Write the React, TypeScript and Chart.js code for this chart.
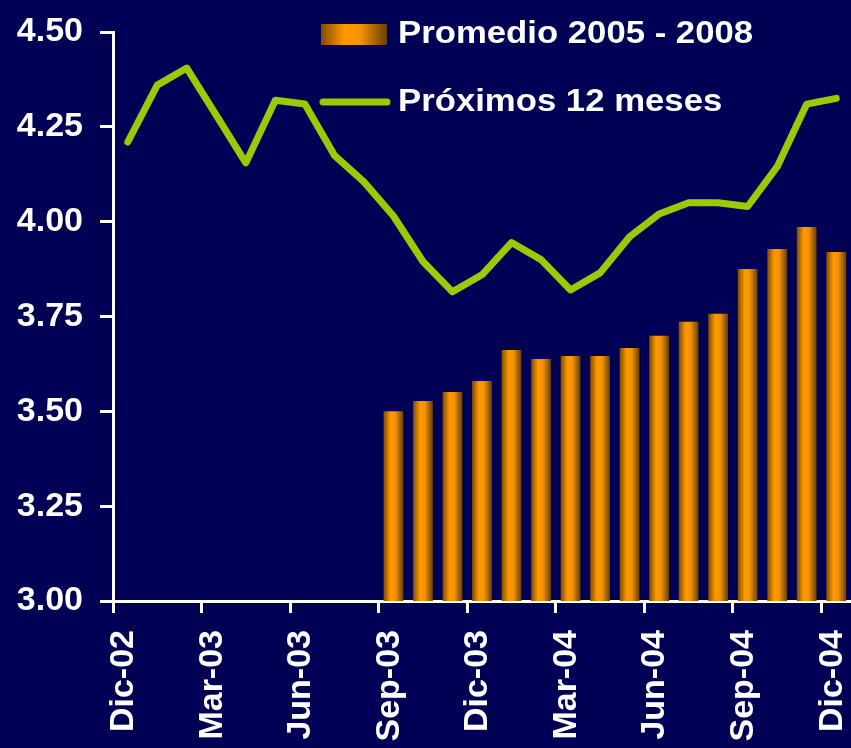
import React, { useEffect, useRef } from "react";
import { Chart, registerables } from "chart.js";

Chart.register(...registerables);

const months = [
  "Dic-02", "Ene-03", "Feb-03", "Mar-03", "Abr-03", "May-03", "Jun-03", "Jul-03", "Ago-03",
  "Sep-03", "Oct-03", "Nov-03", "Dic-03", "Ene-04", "Feb-04", "Mar-04", "Abr-04", "May-04",
  "Jun-04", "Jul-04", "Ago-04", "Sep-04", "Oct-04", "Nov-04", "Dic-04",
];

const proximos12 = [
  4.21, 4.36, 4.405, 4.28, 4.155, 4.32, 4.31, 4.175, 4.105, 4.015, 3.895, 3.815, 3.86,
  3.945, 3.9, 3.82, 3.865, 3.96, 4.02, 4.05, 4.05, 4.04, 4.145, 4.31, 4.325,
];

const promedio = [
  null, null, null, null, null, null, null, null, null,
  3.5, 3.527, 3.551, 3.58, 3.662, 3.638, 3.646, 3.646, 3.667, 3.699, 3.736, 3.757,
  3.875, 3.928, 3.986, 3.92,
];

const yTicks = [3.0, 3.25, 3.5, 3.75, 4.0, 4.25, 4.5];

const BG = "#000055";
const GREEN = "#99cc00";
const FONT = "'Liberation Sans', Arial, sans-serif";

function addStops(g: CanvasGradient) {
  g.addColorStop(0, "#7e4c00");
  g.addColorStop(0.35, "#ff9900");
  g.addColorStop(0.6, "#f49200");
  g.addColorStop(1, "#654000");
  return g;
}

export default function App() {
  const ref = useRef<HTMLCanvasElement | null>(null);

  useEffect(() => {
    document.body.style.margin = "0";
    document.body.style.background = BG;
    const canvas = ref.current;
    if (!canvas) return;

    const bgPlugin = {
      id: "bg",
      beforeDraw(chart: any) {
        const c = chart.ctx;
        c.save();
        c.fillStyle = BG;
        c.fillRect(0, 0, chart.width, chart.height);
        c.restore();
      },
    };

    const legendPlugin = {
      id: "customLegend",
      afterDraw(chart: any) {
        const c = chart.ctx as CanvasRenderingContext2D;
        const ds = chart.data.datasets;
        c.save();
        const g = addStops(c.createLinearGradient(321, 0, 387, 0));
        c.fillStyle = g;
        c.fillRect(321, 24, 66, 21);
        c.strokeStyle = GREEN;
        c.lineWidth = 7;
        c.lineCap = "round";
        c.beginPath();
        c.moveTo(323, 102);
        c.lineTo(387, 102);
        c.stroke();
        c.fillStyle = "#ffffff";
        c.font = `bold 32px ${FONT}`;
        c.textBaseline = "middle";
        c.textAlign = "left";
        const sx = 1.085;
        c.scale(sx, 1);
        c.fillText(ds[1].label, 398 / sx, 34);
        c.fillText(ds[0].label, 398 / sx, 102);
        c.restore();
      },
    };

    const chart = new Chart(canvas, {
      type: "bar",
      data: {
        labels: months,
        datasets: [
          {
            type: "line",
            label: "Próximos 12 meses",
            data: proximos12,
            borderColor: GREEN,
            borderWidth: 7,
            borderJoinStyle: "round",
            borderCapStyle: "round",
            pointRadius: 0,
            tension: 0,
            fill: false,
            order: 0,
          } as any,
          {
            type: "bar",
            label: "Promedio 2005 - 2008",
            data: promedio,
            barPercentage: 0.67,
            categoryPercentage: 1,
            order: 1,
            backgroundColor: (ctx: any) => {
              const chart = ctx.chart;
              const xs = chart.scales && chart.scales.x;
              if (!chart.chartArea || !xs) return "#ff9900";
              const x = xs.getPixelForValue(ctx.dataIndex);
              const w = (chart.chartArea.width / months.length) * 0.67;
              return addStops(chart.ctx.createLinearGradient(x - w / 2, 0, x + w / 2, 0));
            },
          } as any,
        ],
      },
      options: {
        animation: false,
        responsive: false,
        maintainAspectRatio: false,
        layout: { padding: { top: 32, right: 0, left: 0, bottom: 0 } },
        plugins: {
          legend: { display: false },
          tooltip: { enabled: false },
          title: { display: false },
        },
        scales: {
          x: {
            type: "category",
            offset: true,
            grid: {
              offset: true,
              drawOnChartArea: false,
              drawTicks: true,
              tickLength: 12,
              lineWidth: 3,
              color: (ctx: any) =>
                ctx.index % 3 === 0 ? "#ffffff" : "rgba(0,0,0,0)",
            },
            border: { display: true, color: "#ffffff", width: 3 },
            ticks: {
              autoSkip: false,
              maxRotation: 90,
              minRotation: 90,
              padding: 17,
              labelOffset: -4,
              color: "#ffffff",
              font: { family: FONT, size: 34, weight: "bold" },
              callback: (_v: any, i: number) => (i % 3 === 0 ? months[i] : ""),
            },
            afterFit: (scale: any) => {
              scale.height = 147;
              scale.paddingLeft = 0;
              scale.paddingRight = 0;
            },
          },
          y: {
            type: "linear",
            min: 3,
            max: 4.5,
            afterBuildTicks: (scale: any) => {
              scale.ticks = yTicks.map((v) => ({ value: v }));
            },
            grid: {
              drawOnChartArea: false,
              drawTicks: true,
              tickLength: 13,
              lineWidth: 3,
              color: "#ffffff",
            },
            border: { display: true, color: "#ffffff", width: 3 },
            ticks: {
              padding: 17,
              color: "#ffffff",
              font: { family: FONT, size: 34, weight: "bold" },
              callback: (v: any) => Number(v).toFixed(2),
            },
            afterFit: (scale: any) => {
              scale.width = 113;
              scale.paddingTop = 0;
              scale.paddingBottom = 0;
            },
          },
        },
      } as any,
      plugins: [bgPlugin, legendPlugin],
    });

    return () => chart.destroy();
  }, []);

  return (
    <div style={{ width: 851, height: 748, background: BG }}>
      <canvas ref={ref} width={851} height={748} style={{ display: "block", width: 851, height: 748 }} />
    </div>
  );
}
